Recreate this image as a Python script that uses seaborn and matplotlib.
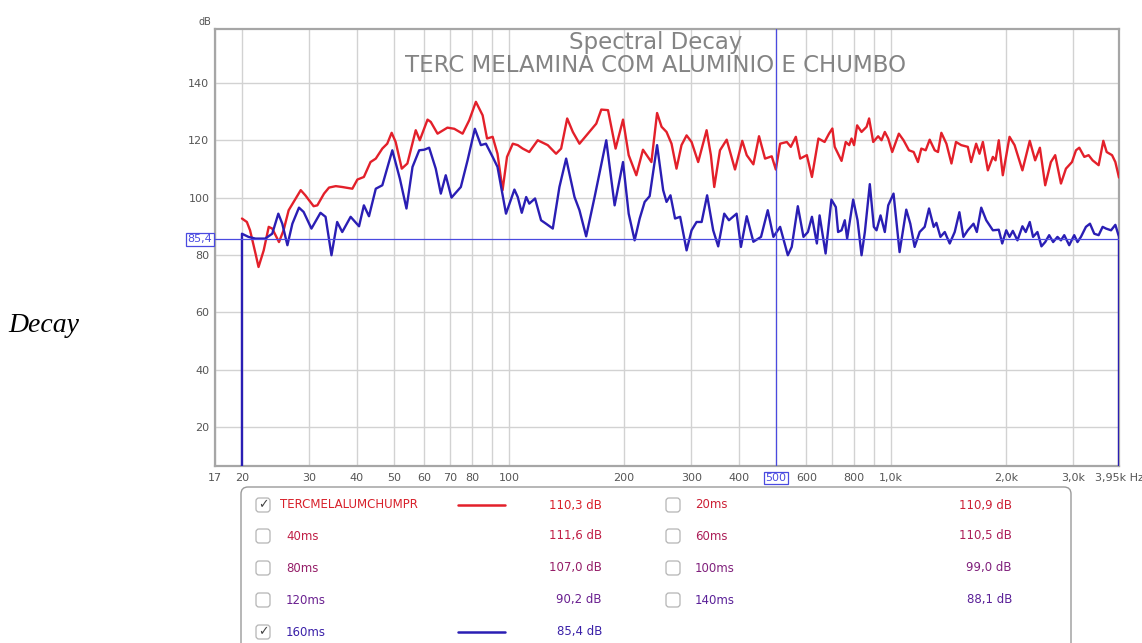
import numpy as np
import pandas as pd
import matplotlib
matplotlib.use("Agg")
import matplotlib.pyplot as plt
import seaborn as sns
from matplotlib.patches import FancyBboxPatch
from matplotlib.lines import Line2D
from matplotlib.transforms import IdentityTransform, blended_transform_factory
from matplotlib.ticker import FixedLocator, NullFormatter

# ---------------- data ----------------
red_freq = [20.0, 20.6, 21.0, 21.7, 22.1, 22.8, 23.5, 24.0, 25.0, 25.7, 26.5, 28.5, 29.3, 30.8, 31.5,
            32.8, 33.8, 35.2, 36.6, 38.9, 40.1, 41.7, 43.4, 44.8, 46.6, 48.0, 49.3, 50.5, 52.4, 54.2,
            57.0, 58.4, 61.2, 62.4, 65.0, 69.0, 71.9, 75.6, 78.7, 81.9, 85.3, 87.6, 90.6, 93.3, 96.2,
            98.8, 102.3, 105.4, 108.6, 113.0, 118.9, 126.3, 132.8, 136.9, 142.0, 146.9, 152.9, 160.9,
            169.2, 174.4, 181.6, 190.1, 198.8, 205.7, 215.4, 224.2, 235.9, 244.1, 250.8, 258.4, 266.3,
            274.4, 282.8, 291.6, 300.5, 312.7, 329.0, 337.6, 344.5, 356.6, 371.3, 390.4, 407.9, 419.0,
            436.1, 451.2, 467.9, 487.2, 499.3, 512.4, 533.5, 546.5, 563.3, 578.2, 601.9, 620.7, 645.5,
            670, 688, 702, 712, 742, 761, 777, 788, 800, 815, 837, 863, 876, 898, 925, 944, 963, 983,
            1007, 1048, 1078, 1114, 1146, 1176, 1200, 1232, 1262, 1301, 1327, 1354, 1396, 1439, 1479,
            1526, 1588, 1620, 1670, 1704, 1739, 1792, 1847, 1877, 1914, 1961, 2042, 2105, 2207, 2307,
            2383, 2452, 2532, 2620, 2689, 2784, 2869, 2975, 3048, 3109, 3205, 3289, 3369, 3494, 3594,
            3667, 3788, 3864, 3950]
red_db = [92.7, 91.5, 88.6, 80.5, 75.8, 81.6, 89.8, 89.2, 84.5, 88.6, 95.6, 102.6, 100.8, 97.0, 97.3,
          101.4, 103.5, 104.0, 103.7, 103.1, 106.3, 107.2, 112.4, 113.6, 117.1, 118.8, 122.6, 119.4, 110.1, 111.9,
          123.5, 120.0, 127.2, 126.4, 122.3, 124.4, 124.0, 122.3, 127.0, 133.4, 128.7, 120.6, 121.2, 115.3, 102.6,
          114.2, 118.8, 118.3, 117.1, 115.9, 120.0, 118.3, 115.3, 117.1, 127.6, 122.9, 118.8, 122.3,
          125.8, 130.7, 130.5, 117.1, 127.2, 114.8, 107.8, 116.7, 112.4, 129.5, 124.7, 122.9, 118.8,
          110.1, 118.3, 121.7, 119.4, 112.4, 123.5, 114.8, 103.7, 116.5, 120.2, 109.8, 119.8, 114.8,
          111.6, 121.4, 113.6, 114.4, 109.8, 118.8, 119.4, 117.7, 121.2, 113.6, 114.8, 107.2, 120.6,
          119.4, 122.3, 124.1, 117.7, 112.8, 119.4, 118.3, 120.6, 118.3, 125.2, 122.9, 124.7, 127.6, 119.4, 121.4, 120.0, 122.9, 120.6,
          115.9, 122.3, 120.0, 116.5, 115.9, 112.4, 117.1, 116.5, 120.2, 116.5, 115.9, 122.6, 118.8, 111.9, 119.4,
          118.3, 117.7, 112.4, 118.8, 115.3, 119.4, 109.5, 114.2, 113.0, 120.0, 107.8, 121.2, 118.3, 109.5, 119.8,
          113.0, 117.4, 104.3, 112.4, 114.8, 104.9, 110.1, 112.4, 116.5, 117.4, 114.2, 114.8, 113.0, 111.3, 119.8,
          115.9, 114.8, 112.4, 107.0]

blue_freq = [20.0, 20.0, 20.8, 21.7, 23.0, 24.0, 24.9, 25.5, 26.3, 27.1, 28.2, 29.0, 30.4, 32.1, 33.1,
             34.3, 35.5, 36.6, 38.5, 40.5, 41.7, 43.0, 44.8, 46.6, 49.5, 51.8, 53.9, 55.9, 58.2, 60.0,
             61.8, 64.3, 66.3, 68.3, 70.7, 74.8, 77.9, 81.4, 84.4, 87.0, 90.6, 93.3, 98.2, 103.3, 105.4,
             108.0, 110.9, 113.0, 117.0, 121.3, 125.0, 130.2, 135.5, 141.1, 148.4, 152.9, 159.2, 167.5,
             179.7, 189.0, 198.8, 205.7, 213.2, 219.8, 226.5, 233.4, 244.1, 253.2, 258.4, 264.6, 272.0,
             280.5, 291.6, 300.5, 309.7, 319.3, 330.0, 342.3, 352.8, 365.9, 376.4, 394.2, 404.6, 419.0,
             436.1, 456.7, 475.6, 492.0, 512.4, 536.7, 549.5, 570.1, 589.8, 605.8, 620.7, 639.4, 650,
             674, 698, 716.8, 726.7, 742, 756.6, 767.4, 795.8, 817, 837, 853.9, 879.7, 901.4, 916.1,
             938.5, 963, 983, 1015, 1052.6, 1096, 1123, 1152.5, 1188, 1224.6, 1257, 1293, 1314, 1346.5,
             1382, 1424, 1467.5, 1509.5, 1546.4, 1588, 1643.5, 1676.8, 1722, 1774.6, 1847, 1914, 1954,
             2002, 2042, 2083, 2142, 2207, 2252, 2307, 2353, 2416, 2475, 2532, 2593, 2656, 2726, 2784,
             2840, 2926, 3016, 3076, 3140, 3236, 3316, 3403, 3494, 3579, 3653, 3765, 3864, 3950, 3950]
blue_db = [0.0, 87.4, 86.3, 85.7, 85.7, 87.4, 94.4, 90.9, 83.4, 90.9, 96.5, 95.0, 89.2, 94.7, 93.3,
           79.9, 91.5, 88.0, 93.3, 90.0, 97.3, 93.5, 103.1, 104.3, 116.5, 106.6, 96.2, 110.7, 116.5, 116.7,
           117.4, 110.1, 101.4, 107.8, 100.0, 103.7, 113.0, 124.0, 118.3, 118.8, 114.2, 110.7, 94.4, 102.8, 100.2,
           94.7, 100.2, 97.9, 99.7, 92.1, 90.9, 89.2, 103.7, 113.6, 100.2, 95.6, 86.5, 100.2,
           120.0, 97.3, 112.4, 94.4, 85.1, 92.7, 98.5, 100.5, 118.3, 102.6, 98.5, 100.8, 92.7,
           93.3, 81.6, 88.6, 91.5, 91.5, 100.8, 88.6, 83.0, 94.4, 92.1, 94.4, 82.8, 93.5,
           84.6, 86.3, 95.6, 86.3, 89.8, 79.9, 82.8, 97.0, 86.3, 88.0, 93.3, 84.0, 93.8,
           80.5, 99.3, 96.7, 88.0, 88.6, 92.1, 85.7, 99.3, 92.1, 79.9, 88.0, 104.7, 89.8, 88.6,
           93.8, 88.0, 97.3, 101.4, 81.0, 95.8, 90.9, 82.8, 88.0, 89.8, 96.2, 89.8, 91.2, 86.3,
           88.0, 84.0, 88.0, 94.9, 86.3, 88.6, 90.9, 88.0, 96.5, 92.1, 88.6, 88.8, 84.0,
           88.6, 86.3, 88.4, 85.1, 90.0, 88.0, 91.5, 86.3, 88.0, 83.0, 84.5, 86.9, 84.5, 86.3, 85.1,
           86.9, 83.4, 86.9, 84.5, 86.3, 89.8, 90.9, 87.4, 86.9, 89.8, 89.2, 88.6, 90.5, 86.3, 0.0]

x_ticks = [17, 20, 30, 40, 50, 60, 70, 80, 100, 200, 300, 400, 500, 600, 800, 1000, 2000, 3000, 3950]
x_tick_labels = ["17", "20", "30", "40", "50", "60", "70", "80", "100", "200", "300", "400", "500",
                 "600", "800", "1,0k", "2,0k", "3,0k", "3,95k Hz"]
x_grid = [20, 30, 40, 50, 60, 70, 80, 90, 100, 200, 300, 400, 500, 600, 700, 800, 900, 1000, 2000, 3000]
y_ticks = [20, 40, 60, 80, 100, 120, 140]

cursor_freq = 500
cursor_db = 85.4
cursor_db_label = "85,4"

title_1 = "Spectral Decay"
title_2 = "TERC MELAMINA COM ALUMINIO E CHUMBO"

legend_col1 = ["TERCMELALUMCHUMPR", "40ms", "80ms", "120ms", "160ms"]
legend_val1 = ["110,3 dB", "111,6 dB", "107,0 dB", "90,2 dB", "85,4 dB"]
legend_chk1 = [True, False, False, False, True]
legend_col2 = ["20ms", "60ms", "100ms", "140ms"]
legend_val2 = ["110,9 dB", "110,5 dB", "99,0 dB", "88,1 dB"]

# ---------------- style ----------------
sns.set_style("white")
plt.rcParams['font.family'] = ['DejaVu Sans']

RED = "#e3202a"
BLUE = "#2a1eb4"
CURSOR = "#4a4ae0"
GRID = "#d2d2d2"
TXT = "#555555"

col1_colors = ["#d8202a", "#c01e45", "#951e68", "#6a2090", "#3a20a8"]
col2_colors = ["#cc2035", "#ac1e58", "#80207c", "#5a2098"]

W, H = 1142, 643
fig = plt.figure(figsize=(W / 100, H / 100), dpi=100)
fig.patch.set_facecolor("white")

L, R, T, B = 215, 1119, 29, 466
ax = fig.add_axes([L / W, 1 - B / H, (R - L) / W, (B - T) / H])

red_df = pd.DataFrame({"freq": red_freq, "db": red_db})
blue_df = pd.DataFrame({"freq": blue_freq, "db": blue_db})

sns.lineplot(data=red_df, x="freq", y="db", estimator=None, sort=False, color=RED, lw=1.7, ax=ax, zorder=4)
sns.lineplot(data=blue_df, x="freq", y="db", estimator=None, sort=False, color=BLUE, lw=1.7, ax=ax, zorder=5)

ax.set_xscale("log")
ax.set_xlim(17, 3950)
ax.set_ylim(6.4, 158.8)
ax.set_xlabel("")
ax.set_ylabel("")

ax.xaxis.set_major_locator(FixedLocator(x_ticks))
ax.set_xticklabels(x_tick_labels)
ax.xaxis.set_minor_locator(FixedLocator(x_grid))
ax.xaxis.set_minor_formatter(NullFormatter())
ax.set_yticks(y_ticks)
ax.set_yticklabels([str(v) for v in y_ticks])

ax.grid(False)
ax.grid(True, which="both", axis="x", color=GRID, lw=1.0, zorder=0)
ax.grid(True, which="major", axis="y", color=GRID, lw=1.0, zorder=0)
ax.set_axisbelow(True)

ax.tick_params(axis="both", which="both", length=0, labelsize=8, labelcolor=TXT)
ax.tick_params(axis="x", pad=5)
ax.tick_params(axis="y", pad=4)

for s in ax.spines.values():
    s.set_color("#a6a6a6")
    s.set_linewidth(1.6)

# cursor
ax.axvline(cursor_freq, color=CURSOR, lw=0.9, zorder=6)
ax.axhline(cursor_db, color=CURSOR, lw=0.9, zorder=6)

for lab in ax.get_xticklabels():
    if lab.get_text() == "500":
        lab.set_color(CURSOR)
        lab.set_bbox(dict(boxstyle="square,pad=0.12", fc="white", ec=CURSOR, lw=0.9))

btr = blended_transform_factory(ax.transAxes, ax.transData)
ax.text(-0.003, cursor_db, cursor_db_label, transform=btr, ha="right", va="center", fontsize=8,
        color=CURSOR, bbox=dict(boxstyle="square,pad=0.12", fc="white", ec=CURSOR, lw=0.9), clip_on=False)

# titles
ax.text(656 / W, 1 - 43 / H, title_1, transform=fig.transFigure, ha="center", va="center",
        fontsize=16.5, color="#848484", zorder=1)
ax.text(656 / W, 1 - 65 / H, title_2, transform=fig.transFigure, ha="center", va="center",
        fontsize=16.5, color="#848484", zorder=1)

# axis unit label
fig.text(205 / W, 1 - 22 / H, "dB", ha="center", va="center", fontsize=7, color=TXT)

# side caption
fig.text(8 / W, 1 - 326 / H, "Decay", ha="left", va="center", fontsize=20, style="italic",
         family="Liberation Serif", color="black")

# ---------------- legend panel ----------------
IT = IdentityTransform()


def box(x0, y0, x1, y1, r, ec, lw=1.0):
    p = FancyBboxPatch((x0, H - y1), x1 - x0, y1 - y0,
                       boxstyle=f"round,pad=0,rounding_size={r}",
                       transform=IT, fc="white", ec=ec, lw=lw)
    fig.add_artist(p)


box(241, 487, 1071, 720, 7, "#9a9a9a", 1.0)

rows_y = [505, 536, 568, 600, 632]
for i, (lab, val, chk) in enumerate(zip(legend_col1, legend_val1, legend_chk1)):
    y = rows_y[i]
    c = col1_colors[i]
    box(256, y - 7, 270, y + 7, 3, "#b4b4b4", 0.9)
    if chk:
        fig.text(263, H - y, "\u2713", transform=IT, ha="center", va="center", fontsize=9, color="#444444")
    lx = 280 if i == 0 else 286
    fig.text(lx, H - y, lab, transform=IT, ha="left", va="center", fontsize=8.5, color=c)
    fig.text(602, H - y, val, transform=IT, ha="right", va="center", fontsize=8.5, color=c)
    if chk:
        fig.add_artist(Line2D([458, 505], [H - y, H - y], transform=IT, color=RED if i == 0 else BLUE, lw=1.8))

for i, (lab, val) in enumerate(zip(legend_col2, legend_val2)):
    y = rows_y[i]
    c = col2_colors[i]
    box(666, y - 7, 680, y + 7, 3, "#b4b4b4", 0.9)
    fig.text(695, H - y, lab, transform=IT, ha="left", va="center", fontsize=8.5, color=c)
    fig.text(1012, H - y, val, transform=IT, ha="right", va="center", fontsize=8.5, color=c)

fig.savefig("out.png", dpi=100, facecolor="white")
